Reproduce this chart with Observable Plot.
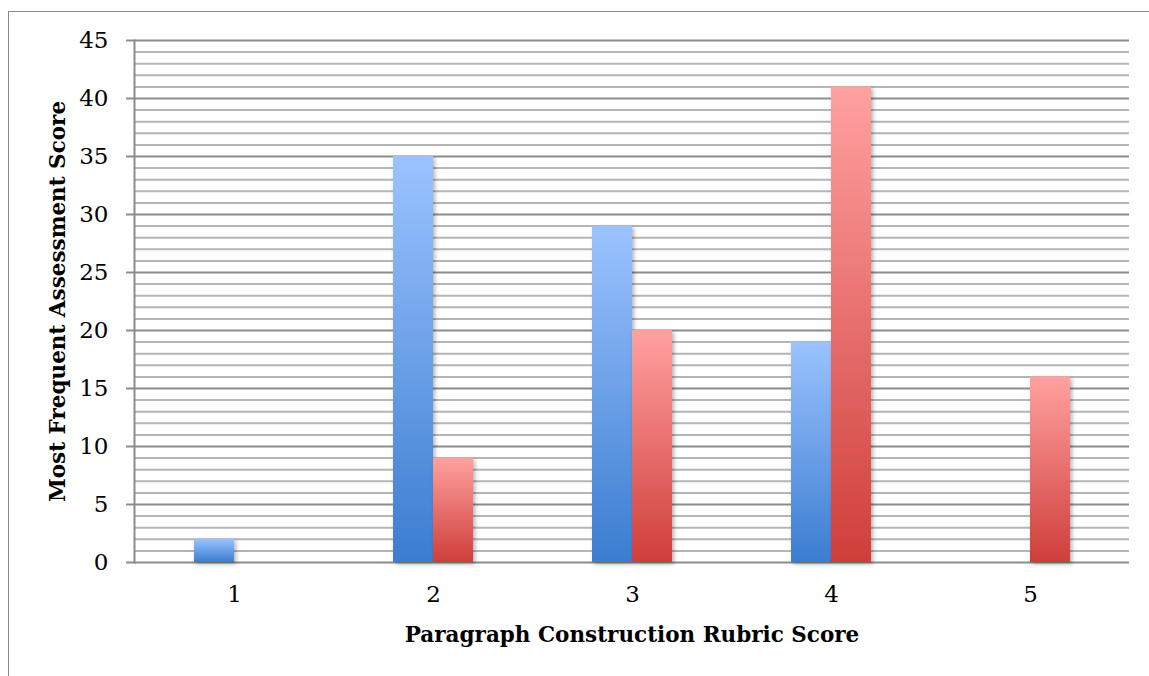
<!DOCTYPE html>
<html>
<head>
<meta charset="utf-8">
<script src="https://cdn.jsdelivr.net/npm/d3@7"></script>
<script src="https://cdn.jsdelivr.net/npm/@observablehq/plot@0.6"></script>
<style>
  html, body { margin: 0; padding: 0; background: #fff; overflow: hidden; }
  #wrap { position: relative; width: 1149px; height: 676px; }
  #border { position: absolute; left: 8px; top: 11px; width: 1160px; height: 700px; border-left: 1.5px solid #8a8a8a; border-top: 1.5px solid #8a8a8a; }
  #chart { position: absolute; left: 0; top: 0; }
</style>
</head>
<body>
<div id="wrap"><div id="border"></div><div id="chart"></div></div>
<script>
const categories = ["1", "2", "3", "4", "5"];
const blueValues = [2, 35, 29, 19, 0];
const redValues = [0, 9, 20, 41, 16];
const yMax = 45;
const majorTicks = [0, 5, 10, 15, 20, 25, 30, 35, 40, 45];
const minorTicks = d3.range(1, 45).filter(v => v % 5 !== 0);
const xTitle = "Paragraph Construction Rubric Score";
const yTitle = "Most Frequent Assessment Score";

const blueRows = categories.map((c, i) => ({cat: c, value: blueValues[i]})).filter(d => d.value > 0);
const redRows = categories.map((c, i) => ({cat: c, value: redValues[i]})).filter(d => d.value > 0);

const svg = Plot.plot({
  width: 1149,
  height: 676,
  marginLeft: 134,
  marginRight: 20,
  marginTop: 40,
  marginBottom: 114,
  style: {fontFamily: "DejaVu Serif", background: "transparent", color: "#000"},
  x: {domain: categories, paddingInner: 0.598, paddingOuter: 0.299, label: null},
  y: {domain: [0, yMax], label: null},
  marks: [
    Plot.ruleY(minorTicks, {stroke: "#b5b5b5", strokeWidth: 2}),
    Plot.ruleY(majorTicks, {stroke: "#8c8c8c", strokeWidth: 2}),
    Plot.frame({anchor: "left", stroke: "#8c8c8c", strokeWidth: 2}),
    Plot.barY(blueRows, {x: "cat", y: "value", fill: "url(#gradBlue)", insetRight: 40}),
    Plot.barY(redRows, {x: "cat", y: "value", fill: "url(#gradRed)", insetLeft: 40}),
    Plot.axisY({ticks: majorTicks, tickSize: 8, tickPadding: 18, fontSize: 23, stroke: "#8c8c8c", strokeWidth: 2, label: null, tickFormat: d => String(d)}),
    Plot.axisX({tickSize: 0, tickPadding: 23, fontSize: 23, label: null}),
    Plot.text([xTitle], {frameAnchor: "bottom", dy: 79, fontSize: 21.5, fontWeight: "bold", fill: "#000"}),
    Plot.text([yTitle], {frameAnchor: "left", dx: -76, rotate: -90, textAnchor: "middle", fontSize: 21.5, fontWeight: "bold", fill: "#000"})
  ]
});

const sel = d3.select(svg);
const defs = sel.insert("defs", ":first-child");
const gb = defs.append("linearGradient").attr("id", "gradBlue").attr("x1", 0).attr("y1", 0).attr("x2", 0).attr("y2", 1);
gb.append("stop").attr("offset", "0%").attr("stop-color", "#9bc3ff");
gb.append("stop").attr("offset", "100%").attr("stop-color", "#3b7dd0");
const gr = defs.append("linearGradient").attr("id", "gradRed").attr("x1", 0).attr("y1", 0).attr("x2", 0).attr("y2", 1);
gr.append("stop").attr("offset", "0%").attr("stop-color", "#ffa1a0");
gr.append("stop").attr("offset", "100%").attr("stop-color", "#cf3e3a");
const f = defs.append("filter").attr("id", "shadow").attr("x", "-20%").attr("y", "-20%").attr("width", "150%").attr("height", "150%");
f.append("feDropShadow").attr("dx", 2).attr("dy", 2).attr("stdDeviation", 2).attr("flood-color", "#000").attr("flood-opacity", 0.3);
sel.selectAll("g[aria-label='bar']").attr("filter", "url(#shadow)");

document.getElementById("chart").appendChild(svg);
</script>
</body>
</html>
